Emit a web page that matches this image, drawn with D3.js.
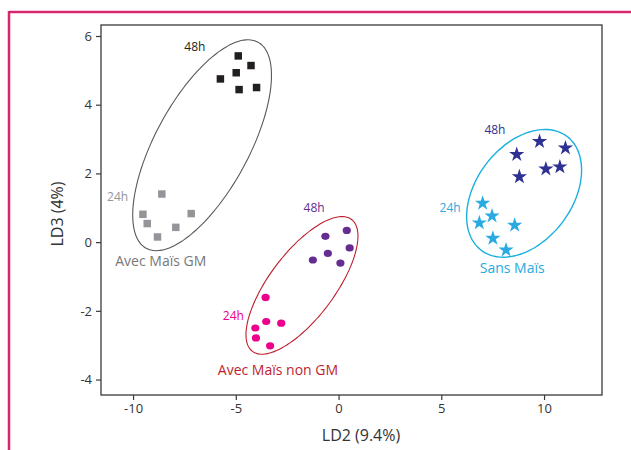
<!DOCTYPE html>
<html><head><meta charset="utf-8">
<script src="https://cdn.jsdelivr.net/npm/d3@7"></script>
<style>body{margin:0;background:#fff}svg{display:block}text{font-family:"Open Sans",sans-serif}</style>
</head><body><div id="chart"></div>
<script>
const xTicks = [-10, -5, 0, 5, 10];
const yTicks = [-4, -2, 0, 2, 4, 6];
const xTitle = "LD2 (9.4%)";
const yTitle = "LD3 (4%)";

// group points (LD2, LD3)
const gm48 = [[-4.88,5.42],[-4.26,5.14],[-4.98,4.93],[-5.75,4.75],[-4.84,4.44],[-3.99,4.50]];
const gm24 = [[-8.60,1.40],[-9.52,0.81],[-7.17,0.83],[-9.31,0.54],[-7.92,0.43],[-8.81,0.15]];
const ngm48 = [[-0.64,0.17],[0.40,0.34],[-0.52,-0.33],[0.54,-0.17],[-1.25,-0.52],[0.09,-0.61]];
const ngm24 = [[-3.55,-1.61],[-3.52,-2.31],[-2.79,-2.36],[-4.05,-2.50],[-4.02,-2.79],[-3.33,-3.02]];
const sm48 = [[9.78,2.93],[11.04,2.74],[8.67,2.55],[10.09,2.13],[10.77,2.19],[8.80,1.90]];
const sm24 = [[7.01,1.13],[7.47,0.76],[6.85,0.56],[8.57,0.49],[7.51,0.11],[8.15,-0.23]];

// ellipses: center, major semi-axis vector, minor semi-axis vector (data units)
const ellipseGM = {c:[-6.64,2.82], u:[2.72,3.00], v:[2.00,-0.649]};
const ellipseNGM = {c:[-1.78,-1.26], u:[2.41,1.92], v:[1.27,-0.569]};
const ellipseSM = {c:[9.03,1.42], u:[2.08,1.66], v:[1.87,-0.836]};

// labels (data positions)
const groupLabels = [
  {t:"Avec Maïs GM", p:[-8.65,-0.70], c:"#77787b", s:14},
  {t:"Avec Maïs non GM", p:[-2.95,-3.88], c:"#be1e2d", s:14},
  {t:"Sans Maïs", p:[8.45,-0.90], c:"#27aae1", s:14},
  {t:"48h", p:[-6.99,5.55], c:"#231f20", s:12},
  {t:"24h", p:[-10.75,1.21], c:"#939598", s:12},
  {t:"48h", p:[-1.19,0.88], c:"#662d91", s:12},
  {t:"24h", p:[-5.12,-2.27], c:"#ec008c", s:12},
  {t:"48h", p:[7.61,3.14], c:"#2e3192", s:12},
  {t:"24h", p:[5.43,0.88], c:"#27aae1", s:12}
];

const W = 631, H = 450;
const m = {l:101, r:29, t:25, b:55};
const svg = d3.select("#chart").append("svg").attr("width", W).attr("height", H);

// pink frame
svg.append("line").attr("x1",9).attr("x2",W).attr("y1",12).attr("y2",12).attr("stroke","#d6286f").attr("stroke-width",2.5);
svg.append("line").attr("x1",9).attr("x2",9).attr("y1",11).attr("y2",H).attr("stroke","#d6286f").attr("stroke-width",2.5);

const x = d3.scaleLinear().domain([-11.56, 12.82]).range([m.l, W - m.r]);
const y = d3.scaleLinear().domain([-4.45, 6.32]).range([H - m.b, m.t]);

svg.append("rect").attr("x", m.l).attr("y", m.t).attr("width", W-m.r-m.l).attr("height", H-m.b-m.t)
  .attr("fill","none").attr("stroke","#3a3a3a").attr("stroke-width",1.3);

const fmt = d => String(d);
const xa = svg.append("g").attr("transform",`translate(0,${H-m.b})`)
  .call(d3.axisBottom(x).tickValues(xTicks).tickSize(5).tickPadding(4).tickFormat(fmt));
const ya = svg.append("g").attr("transform",`translate(${m.l},0)`)
  .call(d3.axisLeft(y).tickValues(yTicks).tickSize(5).tickPadding(4).tickFormat(fmt));
[xa, ya].forEach(a => {
  a.select(".domain").remove();
  a.selectAll("line").attr("stroke","#3a3a3a").attr("stroke-width",1.2);
  a.selectAll("text").attr("fill","#333").style("font-size","13px").style("font-family","'Open Sans',sans-serif");
});

svg.append("text").attr("x", 361).attr("y", 441).attr("text-anchor","middle")
  .attr("fill","#333").style("font-size","16px").text(xTitle);
svg.append("text").attr("transform","translate(63,214) rotate(-90)").attr("text-anchor","middle")
  .attr("fill","#333").style("font-size","16px").text(yTitle);

// ellipses
function ellipsePath(e) {
  const pts = d3.range(0, 361, 3).map(a => {
    const t = a*Math.PI/180;
    return [x(e.c[0] + e.u[0]*Math.cos(t) + e.v[0]*Math.sin(t)),
            y(e.c[1] + e.u[1]*Math.cos(t) + e.v[1]*Math.sin(t))];
  });
  return d3.line().curve(d3.curveCardinalClosed)(pts.slice(0,-1));
}
svg.append("path").attr("d", ellipsePath(ellipseGM)).attr("fill","none").attr("stroke","#58595b").attr("stroke-width",1.1);
svg.append("path").attr("d", ellipsePath(ellipseNGM)).attr("fill","none").attr("stroke","#be1e2d").attr("stroke-width",1.1);
svg.append("path").attr("d", ellipsePath(ellipseSM)).attr("fill","none").attr("stroke","#1cb0df").attr("stroke-width",1.4);

// markers
const sq = d3.symbol().type(d3.symbolSquare).size(56);
const star = d3.symbol().type(d3.symbolStar).size(72);
function draw(data, gen, color) {
  svg.append("g").selectAll("path").data(data).join("path")
    .attr("d", gen)
    .attr("transform", d => `translate(${x(d[0])},${y(d[1])})`)
    .attr("fill", color);
}
draw(gm48, sq, "#231f20");
draw(gm24, sq, "#939598");
function dots(data, color) {
  svg.append("g").selectAll("ellipse").data(data).join("ellipse")
    .attr("cx", d => x(d[0])).attr("cy", d => y(d[1])).attr("rx", 4.1).attr("ry", 3.6).attr("fill", color);
}
dots(ngm48, "#662d91");
dots(ngm24, "#ec008c");
draw(sm48, star, "#2e3192");
draw(sm24, star, "#29abe2");

svg.append("g").selectAll("text").data(groupLabels).join("text")
  .attr("x", d => x(d.p[0])).attr("y", d => y(d.p[1])).attr("text-anchor","middle")
  .attr("fill", d => d.c).style("font-size", d => d.s + "px").text(d => d.t);
</script></body></html>
